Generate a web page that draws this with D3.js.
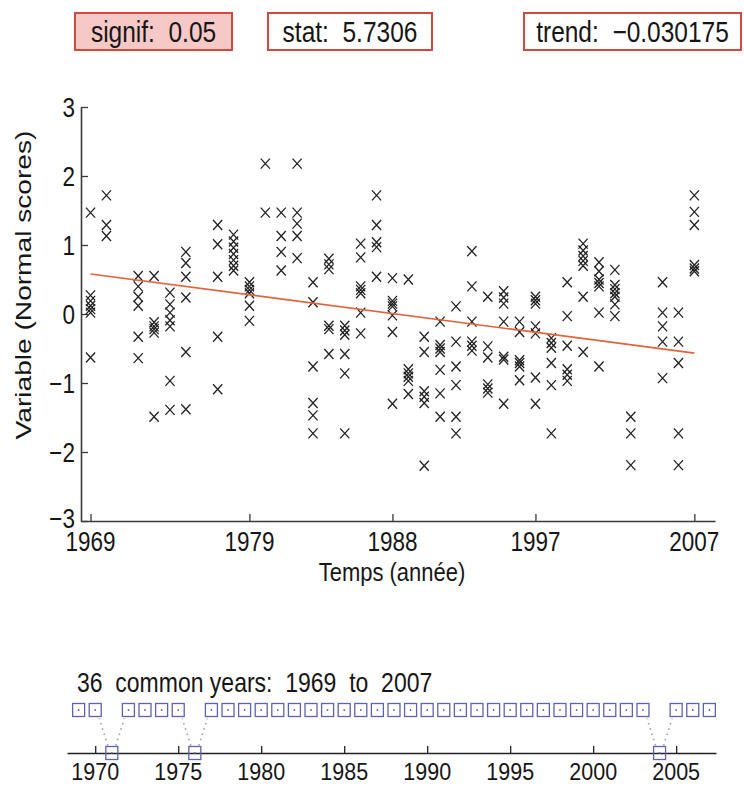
<!DOCTYPE html>
<html><head><meta charset="utf-8">
<script src="https://cdn.jsdelivr.net/npm/d3@7"></script>
<style>
body{margin:0;background:#fff}
svg{display:block}
text{font-family:"Liberation Sans",Arial,Helvetica,sans-serif;fill:#161616;white-space:pre}
</style>
</head><body>
<svg id="c" width="744" height="786"></svg>
<script>
// ---------- data ----------
const years = [1969,1970,1972,1973,1974,1975,1977,1978,1979,1980,1981,1982,1983,1984,1985,1986,1987,1988,
  1989,1990,1991,1992,1993,1994,1995,1996,1997,1998,1999,2000,2001,2002,2003,2005,2006,2007];
const values = [
  [1.47,0.27,0.19,0.12,0.07,0.02,-0.63],
  [1.72,1.29,1.13],
  [0.55,0.40,0.25,0.12,-0.33,-0.64],
  [0.55,-0.12,-0.18,-0.22,-0.27,-1.49],
  [0.31,0.14,0.02,-0.09,-0.18,-0.97,-1.39],
  [0.90,0.74,0.54,0.24,-0.55,-1.38],
  [1.29,1.01,0.54,-0.33,-1.09],
  [1.15,1.05,0.96,0.87,0.78,0.70,0.63],
  [0.46,0.40,0.35,0.30,0.12,-0.10],
  [2.18,1.47],
  [1.47,1.13,0.90,0.63],
  [2.18,1.47,1.31,1.13,0.81],
  [0.46,0.17,-0.76,-1.29,-1.47,-1.73],
  [0.80,0.72,0.65,-0.17,-0.22,-0.58],
  [-0.17,-0.24,-0.30,-0.58,-0.86,-1.73],
  [1.02,0.82,0.40,0.35,0.30,0.02,-0.28],
  [1.72,1.29,1.04,0.97,0.54],
  [0.52,0.19,0.15,0.11,-0.02,-0.26,-1.30],
  [0.50,-0.80,-0.86,-0.91,-0.97,-1.16],
  [-0.33,-0.55,-1.12,-1.20,-1.29,-2.20],
  [-0.11,-0.45,-0.50,-0.55,-0.81,-1.15,-1.49],
  [0.11,-0.40,-0.76,-1.03,-1.49,-1.73],
  [0.91,0.40,-0.11,-0.40,-0.46,-0.53],
  [0.25,-0.47,-0.63,-1.02,-1.08,-1.14],
  [0.33,0.24,0.15,-0.11,-0.62,-0.66,-1.30],
  [-0.11,-0.26,-0.67,-0.71,-0.76,-0.96],
  [0.25,0.20,0.15,-0.18,-0.28,-0.92,-1.30],
  [-0.35,-0.42,-0.49,-0.71,-1.03,-1.73],
  [0.46,-0.03,-0.46,-0.80,-0.88,-0.97],
  [1.02,0.92,0.84,0.77,0.70,0.25,-0.55],
  [0.75,0.62,0.50,0.45,0.40,0.02,-0.76],
  [0.64,0.42,0.36,0.30,0.25,0.14,-0.03],
  [-1.49,-1.73,-2.19],
  [0.46,0.02,-0.18,-0.40,-0.93],
  [0.02,-0.40,-0.71,-1.73,-2.19],
  [1.72,1.48,1.29,0.71,0.66,0.62]
];
const yTicks = [-3,-2,-1,0,1,2,3];
const yTickLabels = ["\u22123","\u22122","\u22121","0","1","2","3"];
const xTicks = [1969,1979,1988,1997,2007];
const trendSlope = -0.030175;
const trendStart = 0.58;          // fitted value at first year
const infoLabels = ["signif:  0.05","stat:  5.7306","trend:  \u22120.030175"];
const xTitle = "Temps (ann\u00e9e)";
const yTitle = "Variable (Normal scores)";
const commonLabel = "36  common years:  1969  to  2007";
const missingYears = [1971,1976,2004];
const timeTicks = [1970,1975,1980,1985,1990,1995,2000,2005];

// ---------- helpers ----------
const svg = d3.select("#c");
function label(x, y, str, size, anchor, sy, rot){
  const g = svg.append("g").attr("transform", `translate(${x},${y}) scale(1,${sy})` + (rot ? ` rotate(${rot})` : ""));
  g.append("text").attr("text-anchor", anchor).attr("font-size", size).text(str);
  return g;
}

// ---------- info boxes ----------
const boxes = [
  {x0:75, x1:232, fill:"#f6c8c6"},
  {x0:268, x1:432, fill:"#ffffff"},
  {x0:524, x1:741, fill:"#ffffff"}
];
boxes.forEach((b,i)=>{
  svg.append("rect").attr("x",b.x0).attr("y",13).attr("width",b.x1-b.x0).attr("height",37)
    .attr("fill",b.fill).attr("stroke","#cf4a40").attr("stroke-width",2);
  label((b.x0+b.x1)/2, 42, infoLabels[i], 24.5, "middle", 1.2);
});

// ---------- main scatter ----------
const x = d3.scaleLinear().domain([1968.4, 2008.3]).range([81, 715]);
const y = d3.scaleLinear().domain([-3, 3]).range([521, 107]);

const yAxis = d3.axisLeft(y).tickValues(yTicks).tickSizeInner(-7).tickSizeOuter(0).tickFormat("");
const xAxis = d3.axisBottom(x).tickValues(xTicks).tickSizeInner(-7).tickSizeOuter(0).tickFormat("");
const ga = svg.append("g").attr("transform","translate(81,0)").call(yAxis);
const gb = svg.append("g").attr("transform","translate(0,521)").call(xAxis);
[ga,gb].forEach(g=>{
  g.select(".domain").attr("stroke","#3a3a3a").attr("stroke-width",1.6);
  g.selectAll(".tick line").attr("stroke","#3a3a3a").attr("stroke-width",1.3);
});
yTicks.forEach((t,i)=> label(75, y(t)+(t===-3 ? 7 : 9.5), yTickLabels[i], 22.5, "end", 1.2));
xTicks.forEach(t=> label(x(t), 551, String(t), 22.5, "middle", 1.2));
label(392, 581, xTitle, 22, "middle", 1.2);
label(31, 285, yTitle, 22.5, "middle", 1.25, -90);

// points
const pts = [];
years.forEach((yr,i)=> values[i].forEach(v=> pts.push({yr, v})));
const hw = 4.6, hh = 5.0;
svg.append("g").selectAll("path").data(pts).enter().append("path")
  .attr("d", d=>{
    const cx = x(d.yr), cy = y(d.v);
    return `M${cx-hw},${cy-hh}L${cx+hw},${cy+hh}M${cx-hw},${cy+hh}L${cx+hw},${cy-hh}`;
  })
  .attr("stroke","#222").attr("stroke-width",1.3).attr("fill","none");

// trend line
const y0 = years[0], y1 = years[years.length-1];
svg.append("line")
  .attr("x1", x(y0)).attr("y1", y(trendStart))
  .attr("x2", x(y1)).attr("y2", y(trendStart + trendSlope*(y1-y0)))
  .attr("stroke","#e2623c").attr("stroke-width",1.6);

// ---------- timeline ----------
label(77, 692, commonLabel, 23, "start", 1.2);
const xb = d3.scaleLinear().domain([1968.3, 2007.4]).range([67, 716]);
const lineY = 753, rowY = 710, sw = 12, sh = 13;
const tAxis = d3.axisBottom(xb).tickValues(timeTicks).tickSizeInner(-7).tickSizeOuter(0).tickFormat("");
const gt = svg.append("g").attr("transform",`translate(0,${lineY})`).call(tAxis);
gt.select(".domain").attr("stroke","#222").attr("stroke-width",1.5);
gt.selectAll(".tick line").attr("stroke","#222").attr("stroke-width",1.3);
timeTicks.forEach(t=> label(xb(t), 780, String(t), 21.5, "middle", 1.1));

// connectors for missing years
missingYears.forEach(m=>{
  [[xb(m)-4, xb(m-1)+4],[xb(m)+4, xb(m+1)-4]].forEach(([xa,xt])=>{
    svg.append("line").attr("x1",xa).attr("y1",lineY-sh/2-1).attr("x2",xt).attr("y2",rowY+sh/2+2)
      .attr("stroke","#9aa0b8").attr("stroke-width",1.6).attr("stroke-dasharray","1.5,4");
  });
});
function sq(cx, cy){
  svg.append("rect").attr("x",cx-sw/2).attr("y",cy-sh/2).attr("width",sw).attr("height",sh)
    .attr("fill","none").attr("stroke","#5f63ad").attr("stroke-width",1.3);
  svg.append("circle").attr("cx",cx).attr("cy",cy).attr("r",0.9).attr("fill","#5f63ad");
}
years.forEach(yr=> sq(xb(yr), rowY));
missingYears.forEach(m=> sq(xb(m), lineY));
</script>
</body></html>
